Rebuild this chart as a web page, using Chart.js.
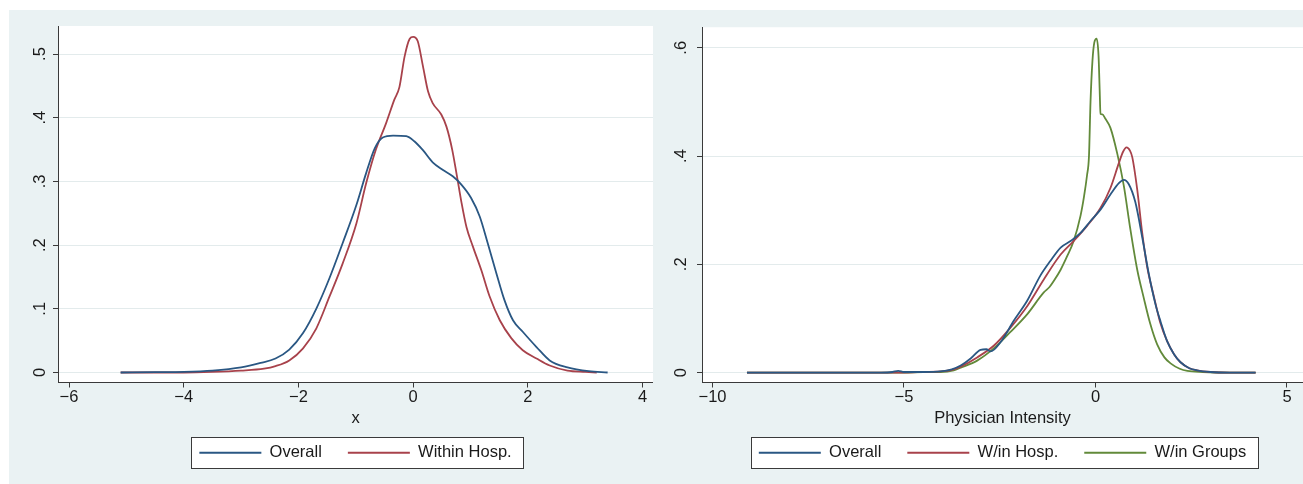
<!DOCTYPE html>
<html>
<head>
<meta charset="utf-8">
<script src="https://cdn.jsdelivr.net/npm/chart.js@4.4.1/dist/chart.umd.min.js"></script>
<style>
  html, body { margin: 0; padding: 0; background: #fff; }
  body { width: 1303px; height: 484px; position: relative; overflow: hidden; }
  #bg { position: absolute; left: 9px; top: 10px; width: 1294px; height: 474px; background: #eaf2f3; }
  canvas { position: absolute; top: 10px; }
  #left { left: 9px; }
  #right { left: 653px; }
</style>
</head>
<body>
<div id="bg"></div>
<canvas id="left" width="644" height="472"></canvas>
<canvas id="right" width="650" height="472"></canvas>
<script>
// ---------- left panel: x
const xOverallL = [-5.1, -4.5, -4.0, -3.5, -3.0, -2.66, -2.4, -2.16, -1.92, -1.69, -1.46, -1.23, -0.99, -0.82, -0.67, -0.53, -0.35, -0.12, 0.02, 0.17, 0.34, 0.52, 0.69, 0.84, 1.01, 1.16, 1.30, 1.45, 1.59, 1.74, 1.91, 2.15, 2.38, 2.69, 3.06, 3.39];
const yOverallL = [0, 0.0005, 0.001, 0.003, 0.008, 0.015, 0.022, 0.036, 0.062, 0.100, 0.148, 0.203, 0.263, 0.313, 0.352, 0.369, 0.372, 0.371, 0.363, 0.349, 0.330, 0.318, 0.308, 0.295, 0.274, 0.245, 0.203, 0.156, 0.114, 0.082, 0.064, 0.040, 0.019, 0.008, 0.002, 0];

const xWithinL = [-5.1, -4.5, -4.0, -3.5, -3.0, -2.6, -2.4, -2.16, -1.92, -1.69, -1.46, -1.23, -0.99, -0.82, -0.65, -0.47, -0.33, -0.24, -0.15, -0.06, 0.0, 0.08, 0.17, 0.26, 0.34, 0.49, 0.58, 0.68, 0.76, 0.84, 0.93, 1.04, 1.19, 1.33, 1.51, 1.71, 1.91, 2.15, 2.38, 2.69, 3.0, 3.2];
const yWithinL = [0, 0, 0, 0.001, 0.003, 0.006, 0.010, 0.019, 0.038, 0.069, 0.119, 0.171, 0.234, 0.297, 0.350, 0.392, 0.428, 0.448, 0.496, 0.524, 0.527, 0.520, 0.481, 0.441, 0.423, 0.405, 0.386, 0.350, 0.310, 0.268, 0.228, 0.198, 0.160, 0.120, 0.082, 0.054, 0.035, 0.022, 0.011, 0.003, 0.001, 0];

// ---------- right panel: Physician Intensity
const xOverallR = [-9.1, -7.0, -5.6, -5.3, -5.15, -5.0, -4.5, -4.05, -3.75, -3.52, -3.26, -3.0, -2.85, -2.74, -2.48, -2.13, -1.78, -1.44, -1.18, -0.91, -0.65, -0.39, -0.13, 0.13, 0.39, 0.61, 0.74, 0.87, 1.04, 1.22, 1.39, 1.57, 1.70, 1.87, 2.05, 2.22, 2.45, 2.65, 3.0, 3.5, 4.18];
const yOverallR = [0, 0, 0, 0.001, 0.003, 0.001, 0.001, 0.002, 0.006, 0.013, 0.026, 0.042, 0.043, 0.039, 0.056, 0.096, 0.133, 0.179, 0.206, 0.231, 0.243, 0.258, 0.280, 0.301, 0.329, 0.350, 0.356, 0.348, 0.315, 0.250, 0.183, 0.125, 0.094, 0.058, 0.034, 0.019, 0.008, 0.004, 0.001, 0, 0];

const xHospR = [-9.1, -7.0, -5.0, -4.5, -4.05, -3.75, -3.52, -3.09, -2.65, -2.22, -1.78, -1.35, -0.91, -0.57, -0.22, 0.13, 0.39, 0.61, 0.72, 0.81, 0.90, 0.96, 1.09, 1.22, 1.35, 1.52, 1.70, 1.87, 2.05, 2.22, 2.45, 2.65, 3.0, 3.5, 4.18];
const yHospR = [0, 0, 0, 0.001, 0.002, 0.005, 0.011, 0.028, 0.050, 0.083, 0.123, 0.172, 0.218, 0.243, 0.271, 0.304, 0.341, 0.387, 0.408, 0.416, 0.410, 0.398, 0.338, 0.258, 0.195, 0.142, 0.090, 0.058, 0.034, 0.019, 0.008, 0.004, 0.001, 0, 0];

const xGroupsR = [-9.1, -7.0, -5.0, -4.5, -4.05, -3.7, -3.52, -3.09, -2.65, -2.22, -1.78, -1.35, -1.2, -1.09, -0.91, -0.74, -0.57, -0.39, -0.3, -0.22, -0.17, -0.13, -0.08, -0.03, 0.03, 0.08, 0.11, 0.13, 0.18, 0.25, 0.39, 0.57, 0.74, 0.91, 1.09, 1.26, 1.43, 1.61, 1.80, 1.96, 2.2, 2.4, 2.8, 3.5, 4.18];
const yGroupsR = [0, 0, 0, 0.001, 0.001, 0.004, 0.009, 0.022, 0.045, 0.075, 0.108, 0.148, 0.158, 0.169, 0.190, 0.215, 0.243, 0.290, 0.325, 0.365, 0.400, 0.500, 0.575, 0.610, 0.617, 0.585, 0.520, 0.478, 0.477, 0.470, 0.452, 0.404, 0.345, 0.265, 0.190, 0.138, 0.090, 0.052, 0.028, 0.017, 0.007, 0.003, 0.001, 0, 0];

// ---------- ticks
const xTicksL = [-6, -4, -2, 0, 2, 4];
const yTicksL = [0, 0.1, 0.2, 0.3, 0.4, 0.5];
const xTicksR = [-10, -5, 0, 5];
const yTicksR = [0, 0.2, 0.4, 0.6];

const BLUE = '#2a5783';
const RED = '#a8424b';
const GREEN = '#628a3a';
const AXIS = '#3a3a3a';
const GRID = '#e3ebec';
const TEXT = '#1a1a1a';
const FONT = { family: "'Liberation Sans', Arial, sans-serif", size: 16.5, lineHeight: 1 };

const fmtX = (v) => String(v).replace('-', '\u2212');
const fmtY = (v) => (v === 0 ? '0' : String(v).replace(/^0\./, '.'));

function series(label, xs, ys, color) {
  return {
    label,
    data: xs.map((x, i) => ({ x, y: ys[i] })),
    borderColor: color,
    backgroundColor: color,
    pointBorderColor: color,
    pointBorderWidth: 1.8,
    borderWidth: 1.8,
    pointRadius: 0,
    pointHoverRadius: 0,
    cubicInterpolationMode: 'monotone',
    fill: false
  };
}

// fond blanc de la zone de tracé + cadre de la légende
const panelPlugin = {
  id: 'panel',
  beforeDraw(chart) {
    const { ctx, chartArea: a } = chart;
    ctx.save();
    ctx.fillStyle = '#ffffff';
    ctx.fillRect(a.left, a.top, a.right - a.left, a.bottom - a.top);
    const hb = chart.legend.legendHitBoxes;
    if (hb && hb.length) {
      const l = Math.min(...hb.map(b => b.left)) - 8;
      const r = Math.max(...hb.map(b => b.left + b.width)) + 12;
      const t = hb[0].top - 7.25;
      const b = hb[0].top + hb[0].height + 7.25;
      ctx.fillRect(l, t, r - l, b - t);
      ctx.strokeStyle = AXIS;
      ctx.lineWidth = 1;
      ctx.strokeRect(Math.round(l) + 0.5, Math.round(t) + 0.5, Math.round(r - l), Math.round(b - t));
    }
    ctx.restore();
  }
};

function makeChart(id, datasets, xr, yr, xTicks, yTicks, title, yPad) {
  return new Chart(document.getElementById(id), {
    type: 'line',
    data: { datasets },
    options: {
      responsive: false,
      animation: false,
      devicePixelRatio: 1,
      layout: { padding: { top: 16, bottom: 11, left: 0, right: 0 } },
      scales: {
        x: {
          type: 'linear', min: xr[0], max: xr[1],
          afterBuildTicks: s => { s.ticks = xTicks.map(v => ({ value: v })); },
          afterFit: s => { s.height = 36; },
          border: { display: true, color: AXIS, width: 1 },
          grid: { drawOnChartArea: false, drawTicks: true, tickLength: 5, tickColor: AXIS, tickWidth: 1 },
          ticks: { autoSkip: false, minRotation: 0, maxRotation: 0, padding: 2, color: TEXT, font: FONT, callback: fmtX },
          title: { display: true, text: title, color: TEXT, font: FONT, padding: { top: 0, bottom: -7.75 } }
        },
        y: {
          type: 'linear', min: yr[0], max: yr[1],
          afterBuildTicks: s => { s.ticks = yTicks.map(v => ({ value: v })); },
          afterFit: s => { s.width = 49; },
          border: { display: true, color: AXIS, width: 1 },
          grid: { color: GRID, lineWidth: 1, drawTicks: true, tickLength: 5, tickColor: AXIS, tickWidth: 1 },
          ticks: { autoSkip: false, minRotation: 90, maxRotation: 90, crossAlign: 'center', padding: yPad, color: TEXT, font: FONT, callback: fmtY }
        }
      },
      plugins: {
        legend: {
          position: 'bottom',
          fullSize: false,
          labels: { usePointStyle: true, pointStyle: 'line', pointStyleWidth: 62, padding: 26, color: TEXT, font: FONT }
        },
        tooltip: { enabled: false }
      }
    },
    plugins: [panelPlugin]
  });
}

makeChart('left', [
  series('Overall', xOverallL, yOverallL, BLUE),
  series('Within Hosp.', xWithinL, yWithinL, RED)
], [-6.192, 4.181], [-0.0157, 0.544], xTicksL, yTicksL, 'x', 6);

makeChart('right', [
  series('Overall', xOverallR, yOverallR, BLUE),
  series('W/in Hosp.', xHospR, yHospR, RED),
  series('W/in Groups', xGroupsR, yGroupsR, GREEN)
], [-10.274, 5.418], [-0.0184, 0.638], xTicksR, yTicksR, 'Physician Intensity', 9);
</script>
</body>
</html>
